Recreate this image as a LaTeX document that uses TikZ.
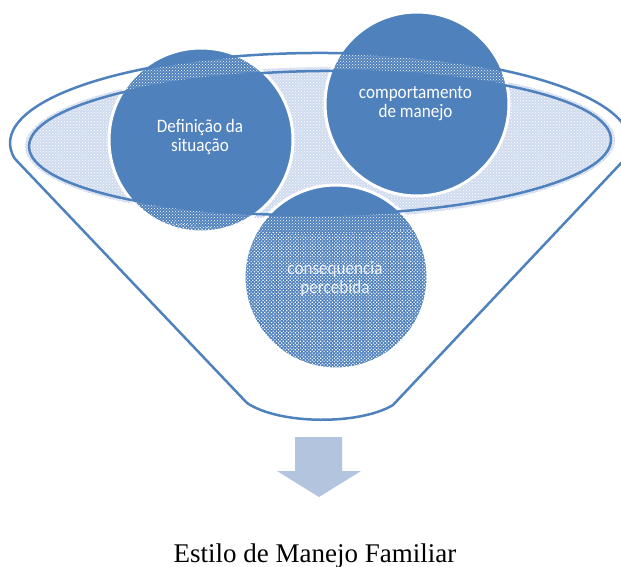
\documentclass[tikz,border=0pt]{standalone}
\usepackage{fontspec}
\setmainfont{Liberation Serif}
\newfontfamily\carl[FakeStretch=0.9]{Carlito}
\usetikzlibrary{patterns,patterns.meta}
\definecolor{fblue}{RGB}{79,129,189}
\definecolor{lblue}{RGB}{208,219,239}
\definecolor{arrowc}{RGB}{179,196,223}
\begin{document}
\begin{tikzpicture}[x=1pt,y=-1pt,
  fline/.style={draw=fblue, line width=2.5pt, line join=round},
  bubble/.style={circle, fill=fblue, draw=white, line width=3pt, minimum size=184pt, inner sep=0pt},
  ctext/.style={text=white, align=center, inner sep=0pt, font=\carl\fontsize{19}{19}\selectfont},
  whitedots/.style={pattern=crosshatch dots, pattern color=white}
]
\useasboundingbox (0,0) rectangle (621,567);

% soft light fill of the inner ellipse
\begin{scope}[rotate around={0.7:(320,143)}]
  \fill[lblue] (320,143) ellipse [x radius=295, y radius=76];
  \fill[whitedots] (320,143) ellipse [x radius=295, y radius=76];
\end{scope}

% circles
\node[bubble] (c1) at (201,140) {};
\node[bubble] (c2) at (417,104) {};
\node[bubble] (c3) at (336,277) {};

% ring overlay (between outer and inner ellipse)
\begin{scope}
  \clip (320,143) ellipse [x radius=310, y radius=90];
  \begin{scope}[rotate around={0.7:(320,143)}]
    \fill[whitedots, even odd rule] (-100,-100) rectangle (800,800) (320,143) ellipse [x radius=291, y radius=72];
  \end{scope}
\end{scope}

% body overlay (funnel below the rim)
\begin{scope}
  \clip (14.7,158.6) -- (247,403) .. controls (280,425) and (360,425) .. (393,405) -- (625.3,158.6) -- cycle;
  \fill[pattern={Dots[angle=45,distance=2.4pt,radius=0.8pt]}, pattern color=white, even odd rule]
     (-100,-100) rectangle (800,800) (320,143) ellipse [x radius=310, y radius=90];
\end{scope}

% funnel outline
\draw[fline] (14.7,158.6) -- (247,403) .. controls (280,425) and (360,425) .. (393,405) -- (625.3,158.6)
  arc[start angle=10, end angle=-190, x radius=310, y radius=90] -- cycle;
\draw[fline, rotate around={0.7:(320,143)}] (320,143) ellipse [x radius=291, y radius=72];

% texts of the circles
\node[ctext] (t1) at (200,136.5) {Definição da\\situação};
\node[ctext] (t2) at (415.5,103.5) {comportamento\\de manejo};
\node[ctext, opacity=0.85] (t3) at (335,278.5) {consequencia\\percebida};

% arrow
\fill[arrowc] (295,437) -- (342,437) -- (342,471) -- (361,471) -- (319,497) -- (277,471) -- (295,471) -- cycle;

% caption
\node[anchor=base, inner sep=0pt, font=\fontsize{27}{27}\selectfont] (lbl) at (315,562) {Estilo de Manejo Familiar};
\end{tikzpicture}
\end{document}
